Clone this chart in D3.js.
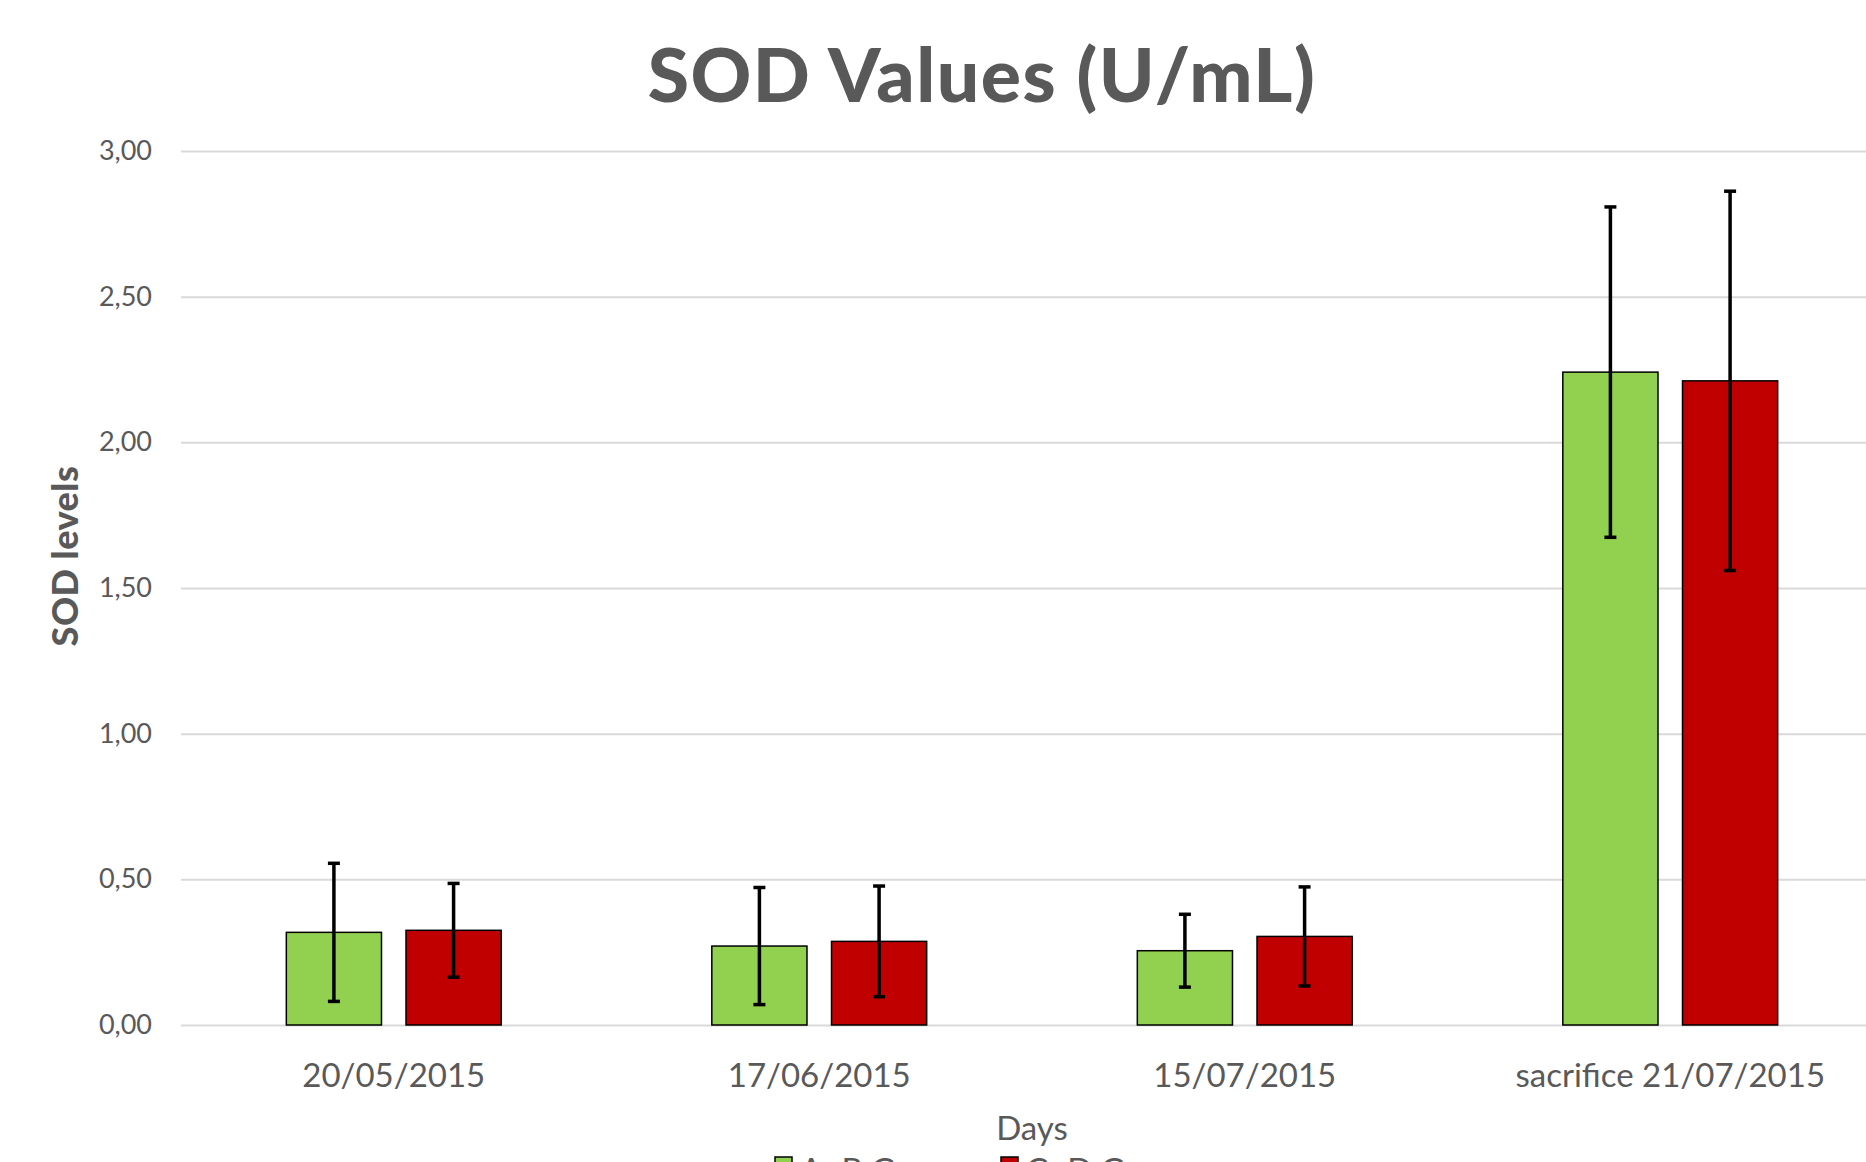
<!DOCTYPE html>
<html>
<head>
<meta charset="utf-8">
<script src="https://cdn.jsdelivr.net/npm/d3@7"></script>
<style>
  body { margin: 0; background: #fff; }
  text { font-family: Lato, "Open Sans", sans-serif; fill: #595959; }
</style>
</head>
<body>
<div id="chart"></div>
<script>
// Data
var days = ["20/05/2015", "17/06/2015", "15/07/2015", "sacrifice 21/07/2015"];
var groups = ["A+B Group", "C+D Group"];
var abValues = [0.318, 0.271, 0.255, 2.241];
var abErrors = [0.237, 0.201, 0.125, 0.567];
var cdValues = [0.325, 0.287, 0.304, 2.211];
var cdErrors = [0.161, 0.19, 0.17, 0.651];
var yTicks = [0, 0.5, 1, 1.5, 2, 2.5, 3];
var colors = ["#92D050", "#C00000"];

var svgWidth = 1866;
var svgHeight = 1162;

var margin = { top: 151, right: -17, bottom: 137, left: 181 };
var chartWidth = svgWidth - margin.left - margin.right;
var chartHeight = svgHeight - margin.top - margin.bottom;

var svg = d3.select("#chart")
    .append("svg")
    .attr("width", svgWidth)
    .attr("height", svgHeight);

var chartGroup = svg.append("g")
    .attr("transform", `translate(${margin.left}, ${margin.top})`);

// build rows from the arrays
var rows = days.map(function (d, i) {
    return {
        day: d,
        bars: [
            { group: groups[0], value: abValues[i], err: abErrors[i] },
            { group: groups[1], value: cdValues[i], err: cdErrors[i] }
        ]
    };
});

var x0 = d3.scaleBand()
    .domain(days)
    .range([0, chartWidth])
    .padding(0);

var x1 = d3.scaleBand()
    .domain(groups)
    .range([0, x0.bandwidth()])
    .paddingInner(0.205)
    .paddingOuter(0.88);

var yLinearScale = d3.scaleLinear()
    .domain([0, 3])
    .range([chartHeight, 0]);

var color = d3.scaleOrdinal().domain(groups).range(colors);

// gridlines + y labels
var leftAxis = d3.axisLeft(yLinearScale)
    .tickValues(yTicks)
    .tickSize(-chartWidth)
    .tickPadding(29)
    .tickFormat(function (d) { return d3.format(".2f")(d).replace(".", ","); });

var yAxis = chartGroup.append("g").call(leftAxis);
yAxis.select(".domain").remove();
yAxis.selectAll(".tick line").attr("stroke", "#D9D9D9").attr("stroke-width", 2);
yAxis.selectAll(".tick text")
    .style("font-size", "27px")
    .attr("fill", "#595959");

// x labels
var bottomAxis = d3.axisBottom(x0).tickSize(0).tickPadding(39);
var xAxis = chartGroup.append("g")
    .attr("transform", "translate(0, " + chartHeight + ")")
    .call(bottomAxis);
xAxis.select(".domain").remove();
xAxis.selectAll(".tick text")
    .style("font-size", "33px")
    .attr("fill", "#595959");

// bars
var dayGroups = chartGroup.selectAll(".day")
    .data(rows)
    .enter().append("g")
    .attr("class", "day")
    .attr("transform", d => `translate(${x0(d.day)}, 0)`);

dayGroups.selectAll("rect")
    .data(d => d.bars)
    .enter().append("rect")
    .attr("x", d => x1(d.group))
    .attr("y", d => yLinearScale(d.value))
    .attr("width", x1.bandwidth())
    .attr("height", d => chartHeight - yLinearScale(d.value))
    .attr("fill", d => color(d.group))
    .attr("stroke", "#000")
    .attr("stroke-width", 1.5);

// error bars
var errs = dayGroups.selectAll(".err")
    .data(d => d.bars)
    .enter().append("g")
    .attr("class", "err")
    .attr("stroke", "#000")
    .attr("stroke-width", 3.5);

errs.append("line")
    .attr("x1", d => x1(d.group) + x1.bandwidth() / 2)
    .attr("x2", d => x1(d.group) + x1.bandwidth() / 2)
    .attr("y1", d => yLinearScale(d.value + d.err))
    .attr("y2", d => yLinearScale(d.value - d.err));

errs.append("line")
    .attr("x1", d => x1(d.group) + x1.bandwidth() / 2 - 6)
    .attr("x2", d => x1(d.group) + x1.bandwidth() / 2 + 6)
    .attr("y1", d => yLinearScale(d.value + d.err))
    .attr("y2", d => yLinearScale(d.value + d.err));

errs.append("line")
    .attr("x1", d => x1(d.group) + x1.bandwidth() / 2 - 6)
    .attr("x2", d => x1(d.group) + x1.bandwidth() / 2 + 6)
    .attr("y1", d => yLinearScale(d.value - d.err))
    .attr("y2", d => yLinearScale(d.value - d.err));

// title
svg.append("text")
    .attr("x", 982)
    .attr("y", 102)
    .attr("text-anchor", "middle")
    .style("font-size", "75px")
    .style("font-weight", "900")
    .style("letter-spacing", "1.5px")
    .text("SOD Values (U/mL)");

// y axis title
svg.append("text")
    .attr("text-anchor", "middle")
    .attr("transform", "translate(78, 556) rotate(-90)")
    .style("font-size", "36px")
    .style("font-weight", "900")
    .style("letter-spacing", "0.5px")
    .text("SOD levels");

// x axis title
svg.append("text")
    .attr("x", 1032)
    .attr("y", 1140)
    .attr("text-anchor", "middle")
    .style("font-size", "33px")
    .text("Days");

// legend (cut off at bottom edge like the reference)
var legendX = [775, 1001];
var legend = svg.selectAll(".legend")
    .data(groups)
    .enter().append("g")
    .attr("class", "legend")
    .attr("transform", (d, i) => `translate(${legendX[i]}, 1157)`);

legend.append("rect")
    .attr("width", 17)
    .attr("height", 17)
    .attr("fill", d => color(d))
    .attr("stroke", "#000")
    .attr("stroke-width", 1.5);

legend.append("text")
    .attr("x", 25)
    .attr("y", 25)
    .style("font-size", "33px")
    .text(d => d);
</script>
</body>
</html>
